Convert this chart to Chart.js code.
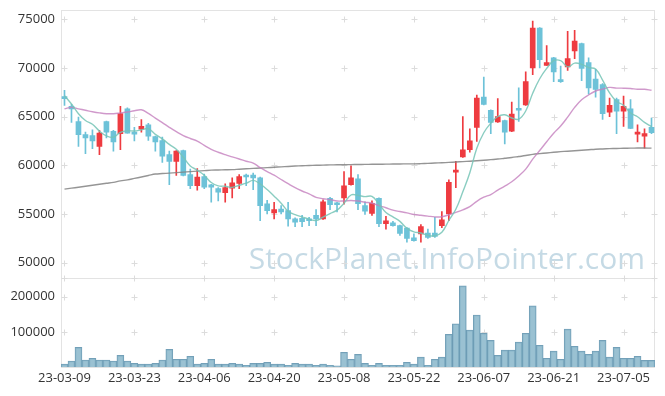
<!DOCTYPE html>
<html>
<head>
<meta charset="utf-8">
<script src="https://cdn.jsdelivr.net/npm/chart.js@4.4.0/dist/chart.umd.min.js"></script>
<style>
  html, body { margin: 0; padding: 0; background: #fff; }
  #wrap { width: 665px; height: 396px; }
</style>
</head>
<body>
<div id="wrap"><canvas id="stockChart"></canvas></div>
<script>
// Trading days shown on the chart
const dates = [
  '23-03-09','23-03-10','23-03-13','23-03-14','23-03-15','23-03-16','23-03-17','23-03-20','23-03-21','23-03-22',
  '23-03-23','23-03-24','23-03-27','23-03-28','23-03-29','23-03-30','23-03-31','23-04-03','23-04-04','23-04-05',
  '23-04-06','23-04-07','23-04-10','23-04-11','23-04-12','23-04-13','23-04-14','23-04-17','23-04-18','23-04-19',
  '23-04-20','23-04-21','23-04-24','23-04-25','23-04-26','23-04-27','23-04-28','23-05-02','23-05-03','23-05-04',
  '23-05-08','23-05-09','23-05-10','23-05-11','23-05-12','23-05-15','23-05-16','23-05-17','23-05-18','23-05-19',
  '23-05-22','23-05-23','23-05-24','23-05-25','23-05-26','23-05-30','23-05-31','23-06-01','23-06-02','23-06-05',
  '23-06-07','23-06-08','23-06-09','23-06-12','23-06-13','23-06-14','23-06-15','23-06-16','23-06-19','23-06-20',
  '23-06-21','23-06-22','23-06-23','23-06-26','23-06-27','23-06-28','23-06-29','23-06-30','23-07-03','23-07-04',
  '23-07-05','23-07-06','23-07-07','23-07-10','23-07-11'
];
const shownDates = ['23-03-09','23-03-23','23-04-06','23-04-20','23-05-08','23-05-22','23-06-07','23-06-21','23-07-05'];

const opens = [
  67050,66050,64500,63150,63050,61950,64500,63500,63250,65800,
  63300,63700,64150,62950,62550,61100,60400,61500,59050,57900,
  58850,58000,57600,57200,57650,58150,59000,59000,58700,56050,
  55100,55500,55350,54500,54550,54350,54850,54500,56600,56000,
  56650,58000,58600,55850,55050,56600,54000,54100,53800,53550,
  52550,52950,53050,53050,53800,55000,59300,60850,61600,63900,
  67000,65650,64450,64600,63500,65750,66200,70000,74100,70250,
  71050,68700,70100,71750,72500,70550,68850,68300,65450,66750,
  65550,65800,63200,63000,63900
];
const highs = [
  67700,66250,64950,63400,63650,63600,64550,63600,66050,65900,
  63900,64700,64300,63000,62900,61450,61500,61550,59600,59650,
  59100,58050,57700,58100,58700,59050,59100,59200,58800,56400,
  56200,55850,56200,54600,54850,54650,55450,56450,56700,56200,
  59350,59950,59050,56250,56350,56650,54750,54250,53850,53600,
  52950,53900,53450,54650,55250,58500,60400,65000,63750,67200,
  69050,65700,66850,64650,66500,67950,69600,74800,74150,72300,
  71100,70200,73750,73850,72550,71050,69850,68400,66900,66900,
  67100,66750,64150,63750,64850
];
const lows = [
  66150,64400,61950,61200,61700,61100,62800,61450,61600,63300,
  62500,63400,62550,61450,60300,58000,58950,58900,57600,57450,
  57600,56200,56350,56200,56650,57600,57900,57500,54300,55000,
  54500,55000,53750,53700,53700,53800,53800,54450,55450,55200,
  56000,57950,55450,54950,54850,53700,53450,53750,52800,52100,
  52200,52100,52500,52600,53600,54300,57700,60800,61350,62450,
  66200,63250,64400,62200,63450,64500,66150,69300,70000,70250,
  68600,68500,69750,70950,68700,67300,67000,64700,65000,63250,
  64000,63750,62400,61750,63250
];
const closes = [
  66850,65800,63150,62800,62500,63300,63400,62400,65300,63300,
  63200,64000,63000,62400,60950,60400,61450,58950,57900,58800,
  57750,57750,57250,57700,58200,58850,58800,58700,55850,55350,
  55450,55200,54500,54150,54200,54300,54500,56250,55950,55950,
  57900,58700,56050,55300,56100,54000,54300,53800,53000,52500,
  52250,53700,52600,52700,54400,58250,59450,61600,62500,66900,
  66250,64400,65000,63400,65250,65650,68600,74100,70850,70550,
  69600,68600,70950,72750,69950,67950,67800,65300,66150,65550,
  66050,63800,63400,63250,63350
];
const volumes = [
  8000,17000,56000,20000,25000,20000,20000,17000,33000,17000,
  10500,8000,8000,10500,20000,50000,22000,22000,30500,8000,
  10500,22000,8000,8000,10500,8000,5000,10500,10500,13500,
  8000,8000,5000,10500,8000,8000,5000,8000,5000,3000,
  42000,22000,36000,10500,5000,10500,5000,5000,5000,13500,
  8000,28000,5000,22000,28000,93000,123000,231000,105000,148000,
  96000,76000,33000,48000,48000,71000,96000,174000,62000,25000,
  45000,22000,108000,59000,45000,36000,45000,76000,28000,56000,
  25000,25000,30500,19000,19000
];
// moving averages as drawn on the chart
const ma5 = [
  67150,66300,65300,64600,64220,63510,63030,62880,63380,63540,
  63520,63640,63760,63180,62710,62150,61640,60830,59930,59500,
  58970,58230,57890,57850,57730,57950,58160,58450,58080,57510,
  56830,56110,55270,54930,54700,54470,54330,54680,55040,55390,
  56110,56950,56910,56780,56810,56030,55150,54700,54240,53520,
  53170,53050,52810,52750,53130,54330,55480,57280,59240,61740,
  63340,64330,65010,65190,64860,64740,65580,67400,68890,69950,
  70740,70740,70110,70490,70370,70040,69880,68750,67430,66550,
  66170,65370,64990,64410,63970
];
const ma20 = [
  65810,65950,65800,65650,65500,65380,65300,65300,65380,65470,
  65600,65700,65330,64850,64380,63900,63450,63050,62750,62490,
  62040,61640,61340,61090,60870,60650,60420,60230,59760,59360,
  58980,58540,58110,57700,57360,57060,56710,56570,56480,56330,
  56340,56390,56330,56210,56100,55860,55640,55390,55250,55110,
  54950,54870,54780,54700,54710,54910,55160,55430,55750,56300,
  56720,57000,57450,57860,58310,58900,59610,60630,61520,62420,
  63290,64030,64950,65950,66730,67220,67630,67820,68000,67930,
  67920,67890,67810,67810,67710
];
const ma60 = [
  57550,57650,57750,57850,57950,58050,58150,58250,58400,58500,
  58650,58800,58950,59100,59150,59200,59250,59300,59350,59400,
  59450,59500,59520,59540,59560,59600,59640,59680,59720,59760,
  59800,59840,59880,59920,59950,59980,60000,60020,60040,60050,
  60060,60070,60080,60090,60100,60110,60120,60130,60140,60150,
  60150,60170,60200,60230,60260,60300,60340,60380,60420,60470,
  60520,60580,60640,60720,60800,60900,61000,61120,61200,61270,
  61340,61400,61450,61500,61550,61600,61650,61680,61710,61730,
  61750,61760,61770,61770,61760
];
const priceTicks = [50000, 55000, 60000, 65000, 70000, 75000];
const volumeTicks = [100000, 200000];

const upColor = '#ee3b40';
const downColor = '#6dc2d8';
const tickFont = { family: 'Open Sans', size: 13 };

function candleColor(i) {
    return closes[i] >= opens[i] ? upColor : downColor;
}

// keep y axes at a fixed width with no extra label padding
function fixAxis(axis) {
    axis.width = 58;
    axis.paddingTop = 0;
    axis.paddingBottom = 0;
}

// faint "+" grid marks, panel borders and watermark
const panelDecor = {
    id: 'panelDecor',
    beforeDatasetsDraw(chart) {
        const { ctx, scales } = chart;
        const x = scales.x, y = scales.y, v = scales.yVol;
        ctx.save();

        ctx.font = '30px "Open Sans"';
        ctx.fillStyle = 'rgba(140, 182, 204, 0.5)';
        ctx.textAlign = 'right';
        ctx.textBaseline = 'alphabetic';
        ctx.fillText('StockPlanet.InfoPointer.com', x.right - 10, y.bottom - 9);

        ctx.strokeStyle = '#e3e3e3';
        ctx.lineWidth = 1;
        ctx.strokeRect(Math.round(x.left) + 0.5, Math.round(y.top) + 0.5,
            Math.round(x.right - x.left) - 1, Math.round(v.bottom - y.top));
        ctx.beginPath();
        ctx.moveTo(x.left, Math.round(v.top) + 0.5);
        ctx.lineTo(x.right, Math.round(v.top) + 0.5);
        ctx.stroke();

        const xs = [];
        dates.forEach((d, i) => {
            if (shownDates.includes(d)) xs.push(x.getPixelForValue(i));
        });
        xs.push(x.right - 1);
        const ys = priceTicks.map(t => y.getPixelForValue(t))
            .concat(volumeTicks.map(t => v.getPixelForValue(t)));
        ys.push(v.top);
        ctx.strokeStyle = '#dcdcdc';
        ctx.beginPath();
        xs.forEach(px => {
            ys.forEach(py => {
                const cx = Math.round(px) + 0.5, cy = Math.round(py) + 0.5;
                ctx.moveTo(cx - 3, cy); ctx.lineTo(cx + 3, cy);
                ctx.moveTo(cx, cy - 3); ctx.lineTo(cx, cy + 3);
            });
        });
        ctx.stroke();
        ctx.restore();
    }
};

const ctx = document.getElementById('stockChart').getContext('2d');

const chart = new Chart(ctx, {
    type: 'bar',
    data: {
        labels: dates,
        datasets: [
            {
                type: 'line', label: 'MA5', data: ma5, yAxisID: 'y',
                borderColor: 'rgba(118, 196, 182, 0.85)', borderWidth: 1.4,
                pointRadius: 0, tension: 0.4, order: 0
            },
            {
                type: 'line', label: 'MA20', data: ma20, yAxisID: 'y',
                borderColor: 'rgba(196, 128, 190, 0.8)', borderWidth: 1.4,
                pointRadius: 0, tension: 0.4, order: 0
            },
            {
                type: 'line', label: 'MA60', data: ma60, yAxisID: 'y',
                borderColor: 'rgba(130, 130, 130, 0.85)', borderWidth: 1.4,
                pointRadius: 0, tension: 0.4, order: 0
            },
            {
                label: 'Body', data: opens.map((o, i) => [o, closes[i]]), yAxisID: 'y',
                backgroundColor: ctx => candleColor(ctx.dataIndex),
                barThickness: 5, minBarLength: 2, grouped: false, order: 1
            },
            {
                label: 'Wick', data: lows.map((l, i) => [l, highs[i]]), yAxisID: 'y',
                backgroundColor: ctx => candleColor(ctx.dataIndex),
                barThickness: 1, grouped: false, order: 2
            },
            {
                label: 'Volume', data: volumes, yAxisID: 'yVol',
                backgroundColor: 'rgba(140, 184, 204, 0.88)',
                borderColor: 'rgba(100, 150, 176, 0.9)', borderWidth: 1,
                barPercentage: 1, categoryPercentage: 1, grouped: false, order: 3
            }
        ]
    },
    options: {
        responsive: true,
        maintainAspectRatio: false,
        animation: false,
        layout: { padding: { left: 3, right: 10, top: 10, bottom: 6 } },
        plugins: {
            legend: { display: false },
            tooltip: { enabled: false }
        },
        scales: {
            x: {
                offset: true,
                grid: { display: false, drawTicks: false },
                border: { display: false },
                afterFit: axis => { axis.height = 23; },
                ticks: {
                    autoSkip: false, maxRotation: 0, padding: 3,
                    font: tickFont, color: '#333',
                    callback: function (val, i) {
                        return shownDates.includes(dates[i]) ? dates[i] : '';
                    }
                }
            },
            yVol: {
                stack: 'panels', stackWeight: 1,
                min: 0, max: 254000,
                grid: { display: false, drawTicks: false },
                border: { display: false },
                afterFit: fixAxis,
                afterBuildTicks: axis => { axis.ticks = volumeTicks.map(t => ({ value: t })); },
                ticks: { font: tickFont, color: '#333', padding: 6, callback: v => String(v) }
            },
            y: {
                stack: 'panels', stackWeight: 3,
                min: 48450, max: 75950,
                grid: { display: false, drawTicks: false },
                border: { display: false },
                afterFit: fixAxis,
                afterBuildTicks: axis => { axis.ticks = priceTicks.map(t => ({ value: t })); },
                ticks: { font: tickFont, color: '#333', padding: 6, callback: v => String(v) }
            }
        }
    },
    plugins: [panelDecor]
});
</script>
</body>
</html>
